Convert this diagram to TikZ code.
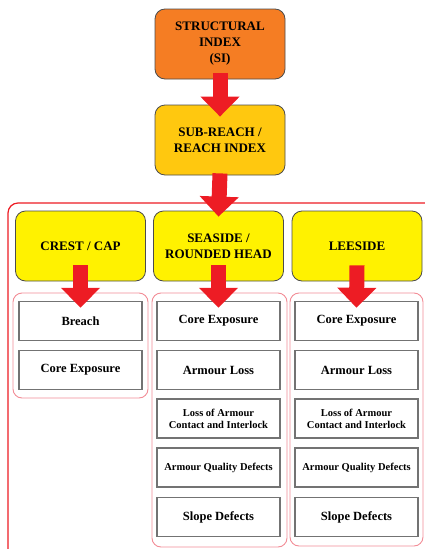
\documentclass[tikz,border=0pt]{standalone}
\usepackage{fontspec}
\setmainfont{Liberation Serif}
\usepackage{tikz}
\usetikzlibrary{positioning,arrows.meta}
\definecolor{siorange}{RGB}{245,125,35}
\definecolor{reachgold}{RGB}{255,200,15}
\definecolor{partyellow}{RGB}{255,242,0}
\definecolor{flowred}{RGB}{237,28,36}
\definecolor{grouppink}{RGB}{242,140,150}
\tikzset{%
	index/.style={
		draw=black!70,
		line width=0.8pt,
		rounded corners=10pt,
		minimum width=130pt,
		minimum height=70pt,
		align=center,
		font=\bfseries\fontsize{13}{16}\selectfont
	},
	index-si/.style={ fill=siorange },
	index-reach/.style={ fill=reachgold },
	part/.style={ index, fill=partyellow, minimum width=130pt },
	item/.style={
		draw=black!55,
		line width=1.5pt,
		fill=white,
		minimum width=123pt,
		minimum height=39pt,
		align=center,
		font=\bfseries\fontsize{12.5}{14}\selectfont
	},
	item-small/.style={ font=\bfseries\fontsize{10.5}{12}\selectfont },
	group/.style={ draw=grouppink, line width=0.9pt, rounded corners=9pt },
	flow/.style={ draw=flowred, line width=15pt, -{Triangle[width=38pt,length=20pt]} },
}

\begin{document}
\begin{tikzpicture}[x=1pt, y=-1pt]
\useasboundingbox (0,0) rectangle (425,549);

% outer frame and groups
\draw[flowred, line width=1.2pt, rounded corners=10pt] (8,203) rectangle (440,560);
\draw[group] (13,293) rectangle (148,398);
\draw[group] (152,293) rectangle (287,547);
\draw[group] (290,293) rectangle (423,546);

% index boxes
\node[index, index-si] (si) at (220,44) {STRUCTURAL\\INDEX\\(SI)};
\node[index, index-reach] (reach) at (220,140) {SUB-REACH /\\REACH INDEX};

% parts
\node[part] (crest) at (80.5,246) {CREST / CAP};
\node[part] (seaside) at (218.5,246) {SEASIDE /\\ROUNDED HEAD};
\node[part] (leeside) at (357,246) {LEESIDE};

% items
\foreach \t [count=\y] in {Breach, Core Exposure}
	\node[item] (crest-\y) at (80.5,321+\y*49-49) {\t};
\foreach \t [count=\y] in {Core Exposure, Armour Loss}
	\node[item] (sea-\y) at (218.5,321+\y*49-49) {\t};
\foreach \t [count=\y] in {Core Exposure, Armour Loss}
	\node[item] (lee-\y) at (356.5,321+\y*49-49) {\t};
\node[item, item-small] (sea-3) at (218.5,418.5) {Loss of Armour\\Contact and Interlock};
\node[item, item-small] (sea-4) at (218.5,467.5) {Armour Quality Defects};
\node[item] (sea-5) at (218.5,517) {Slope Defects};
\node[item, item-small] (lee-3) at (356.5,418.5) {Loss of Armour\\Contact and Interlock};
\node[item, item-small] (lee-4) at (356.5,467.5) {Armour Quality Defects};
\node[item] (lee-5) at (356.5,517) {Slope Defects};

% flow arrows
\draw[flow] ([yshift=6pt]si.south) -- ([yshift=-12pt]reach.north);
\draw[flow] ([yshift=2pt]reach.south) -- ([yshift=-6pt]seaside.north);
\foreach \p/\i in {crest/crest, seaside/sea, leeside/lee}
	\draw[flow] ([yshift=16pt]\p.south) -- ([yshift=-7pt]\i-1.north);

\end{tikzpicture}
\end{document}
